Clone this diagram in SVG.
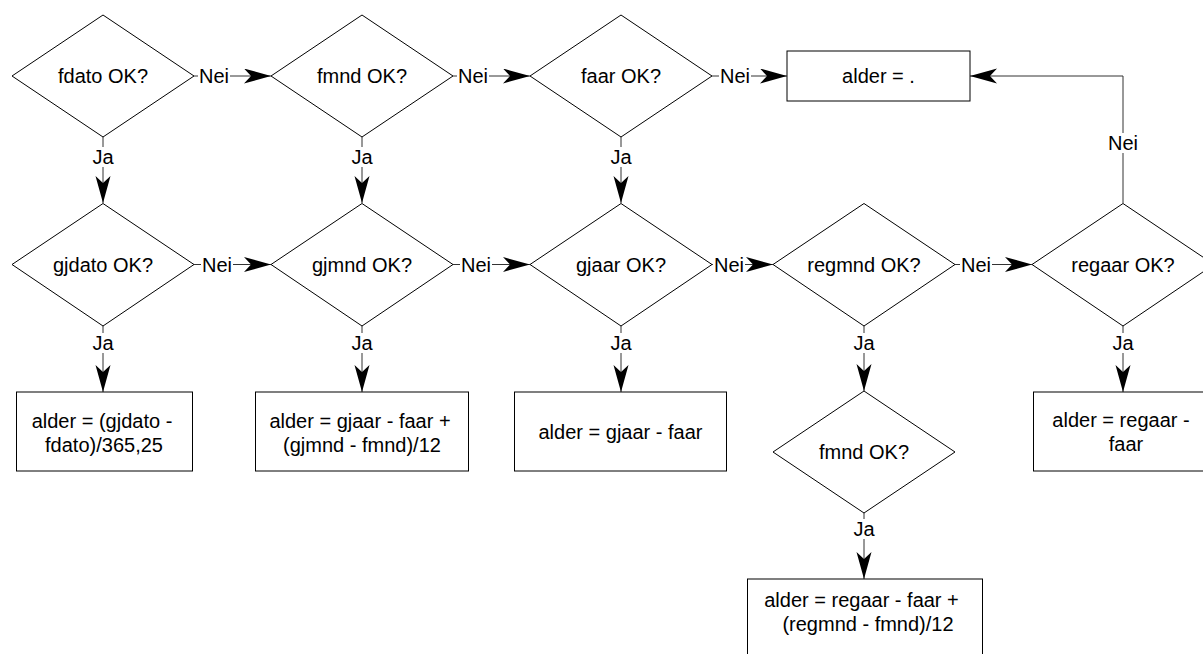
<svg xmlns="http://www.w3.org/2000/svg" width="1203" height="654" viewBox="0 0 1203 654">
<style>
.s{fill:#fff;stroke:#000;stroke-width:1}
.t{font-family:"Liberation Sans",Arial,sans-serif;font-size:20px;fill:#000;text-anchor:middle}
.c{fill:none;stroke:#333;stroke-width:1}
.lb{fill:#fff;stroke:none}
</style>
<defs>
<marker id="ah" markerUnits="userSpaceOnUse" markerWidth="28" markerHeight="16" refX="27" refY="7.5" orient="auto" viewBox="0 0 28 16">
<path d="M0,0 L27,7.5 L0,15 L7,7.5 Z" fill="#000"/>
</marker>
</defs>
<rect width="1203" height="654" fill="#fff"/>
<g id="connectors">
<path class="c" d="M194,76H271" marker-end="url(#ah)"/>
<path class="c" d="M453,76H530" marker-end="url(#ah)"/>
<path class="c" d="M712,76H787" marker-end="url(#ah)"/>
<path class="c" d="M194,264.5H271" marker-end="url(#ah)"/>
<path class="c" d="M453,264.5H530" marker-end="url(#ah)"/>
<path class="c" d="M712,264.5H773" marker-end="url(#ah)"/>
<path class="c" d="M955,264.5H1032" marker-end="url(#ah)"/>
<path class="c" d="M103,137V203" marker-end="url(#ah)"/>
<path class="c" d="M362,137V203" marker-end="url(#ah)"/>
<path class="c" d="M621,137V203" marker-end="url(#ah)"/>
<path class="c" d="M103,326V392" marker-end="url(#ah)"/>
<path class="c" d="M362,326V392" marker-end="url(#ah)"/>
<path class="c" d="M621,326V392" marker-end="url(#ah)"/>
<path class="c" d="M864,326V391" marker-end="url(#ah)"/>
<path class="c" d="M1123,326V392" marker-end="url(#ah)"/>
<path class="c" d="M864,513V579" marker-end="url(#ah)"/>
<path class="c" d="M1123,203V76H970" marker-end="url(#ah)"/>
<g id="labels">
<rect class="lb" x="198" y="66" width="32" height="20"/><text class="t" x="214" y="83">Nei</text>
<rect class="lb" x="457" y="66" width="32" height="20"/><text class="t" x="473" y="83">Nei</text>
<rect class="lb" x="719" y="66" width="32" height="20"/><text class="t" x="735" y="83">Nei</text>
<rect class="lb" x="201" y="254.5" width="32" height="20"/><text class="t" x="217" y="271.5">Nei</text>
<rect class="lb" x="460" y="254.5" width="32" height="20"/><text class="t" x="476" y="271.5">Nei</text>
<rect class="lb" x="713" y="254.5" width="32" height="20"/><text class="t" x="729" y="271.5">Nei</text>
<rect class="lb" x="960" y="254.5" width="32" height="20"/><text class="t" x="976" y="271.5">Nei</text>
<rect class="lb" x="1107" y="133" width="32" height="20"/><text class="t" x="1123" y="150">Nei</text>
<rect class="lb" x="92" y="147" width="22" height="20"/><text class="t" x="103" y="164">Ja</text>
<rect class="lb" x="351" y="147" width="22" height="20"/><text class="t" x="362" y="164">Ja</text>
<rect class="lb" x="610" y="147" width="22" height="20"/><text class="t" x="621" y="164">Ja</text>
<rect class="lb" x="92" y="333" width="22" height="20"/><text class="t" x="103" y="350">Ja</text>
<rect class="lb" x="351" y="333" width="22" height="20"/><text class="t" x="362" y="350">Ja</text>
<rect class="lb" x="610" y="333" width="22" height="20"/><text class="t" x="621" y="350">Ja</text>
<rect class="lb" x="853" y="333" width="22" height="20"/><text class="t" x="864" y="350">Ja</text>
<rect class="lb" x="1112" y="333" width="22" height="20"/><text class="t" x="1123" y="350">Ja</text>
<rect class="lb" x="853" y="519" width="22" height="20"/><text class="t" x="864" y="536">Ja</text>
</g>
</g>
<g id="d_fdato"><path class="s" d="M103,15L194,76L103,137L12,76Z"/><text class="t" x="103" y="83">fdato OK?</text></g>
<g id="d_fmnd"><path class="s" d="M362,15L453,76L362,137L271,76Z"/><text class="t" x="362" y="83">fmnd OK?</text></g>
<g id="d_faar"><path class="s" d="M621,15L712,76L621,137L530,76Z"/><text class="t" x="621" y="83">faar OK?</text></g>
<g id="r_alder_dot"><rect class="s" x="787" y="51" width="183" height="50"/><text class="t" x="878.5" y="83">alder = .</text></g>
<g id="d_gjdato"><path class="s" d="M103,203.5L194,264.5L103,326L12,264.5Z"/><text class="t" x="103" y="271.5">gjdato OK?</text></g>
<g id="d_gjmnd"><path class="s" d="M362,203.5L453,264.5L362,326L271,264.5Z"/><text class="t" x="362" y="271.5">gjmnd OK?</text></g>
<g id="d_gjaar"><path class="s" d="M621,203.5L712,264.5L621,326L530,264.5Z"/><text class="t" x="621" y="271.5">gjaar OK?</text></g>
<g id="d_regmnd"><path class="s" d="M864,203.5L955,264.5L864,326L773,264.5Z"/><text class="t" x="864" y="271.5">regmnd OK?</text></g>
<g id="d_regaar"><path class="s" d="M1123,203.5L1214,264.5L1123,326L1032,264.5Z"/><text class="t" x="1123" y="271.5">regaar OK?</text></g>
<g id="r_gjdato"><rect class="s" x="16.5" y="392" width="176" height="79"/><text class="t" x="102" y="428">alder = (gjdato -</text><text class="t" x="104" y="452">fdato)/365,25</text></g>
<g id="r_gjmnd"><rect class="s" x="255.5" y="392" width="213" height="79"/><text class="t" x="360" y="428">alder = gjaar - faar +</text><text class="t" x="362" y="452">(gjmnd - fmnd)/12</text></g>
<g id="r_gjaar"><rect class="s" x="514.5" y="392" width="212" height="79"/><text class="t" x="620.5" y="439">alder = gjaar - faar</text></g>
<g id="r_regaar"><rect class="s" x="1033.5" y="392" width="180" height="79"/><text class="t" x="1121" y="427">alder = regaar -</text><text class="t" x="1126" y="451">faar</text></g>
<g id="d_fmnd2"><path class="s" d="M864,391L955,452L864,513L773,452Z"/><text class="t" x="864" y="459">fmnd OK?</text></g>
<g id="r_final"><rect class="s" x="747.5" y="579" width="235" height="82"/><text class="t" x="861.5" y="607">alder = regaar - faar +</text><text class="t" x="868" y="631">(regmnd - fmnd)/12</text></g>
</svg>
